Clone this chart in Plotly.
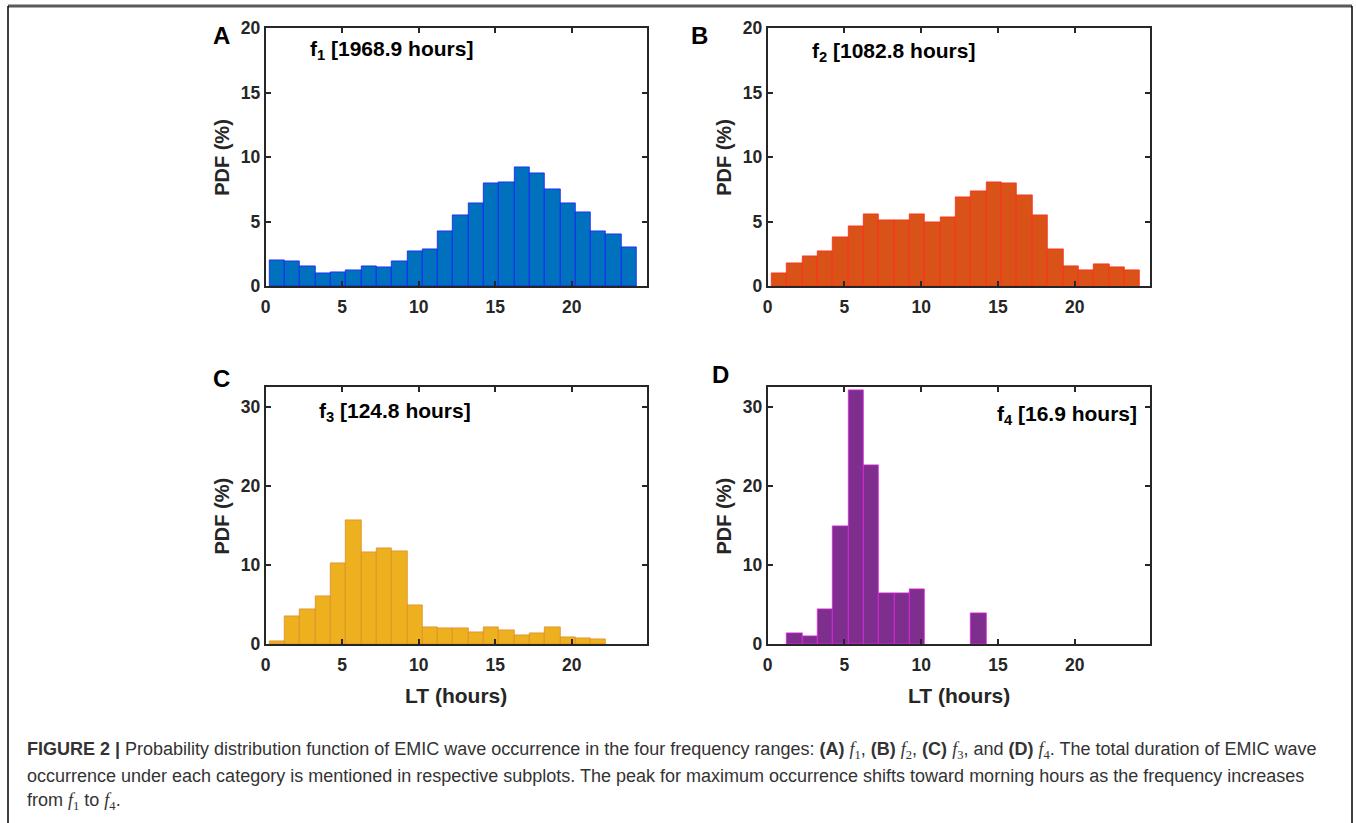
import plotly.graph_objects as go

# ---- data ----
lt_bin_centers = [0.75, 1.75, 2.75, 3.75, 4.75, 5.75, 6.75, 7.75, 8.75, 9.75, 10.75, 11.75,
                  12.75, 13.75, 14.75, 15.75, 16.75, 17.75, 18.75, 19.75, 20.75, 21.75, 22.75, 23.75]
pdf_f1 = [1.97, 1.89, 1.50, 0.98, 1.03, 1.19, 1.50, 1.47, 1.89, 2.66, 2.85, 4.22,
          5.51, 6.44, 7.94, 8.07, 9.18, 8.77, 7.50, 6.42, 5.72, 4.27, 4.04, 3.00]
pdf_f2 = [0.98, 1.76, 2.28, 2.72, 3.75, 4.63, 5.59, 5.07, 5.07, 5.59, 4.94, 5.30,
          6.91, 7.32, 8.05, 7.97, 7.01, 5.51, 2.85, 1.50, 1.19, 1.71, 1.42, 1.22]
pdf_f3 = [0.42, 3.54, 4.38, 6.03, 10.28, 15.63, 11.63, 12.09, 11.76, 4.93, 2.11, 2.02,
          2.02, 1.56, 2.15, 1.81, 1.10, 1.43, 2.19, 0.88, 0.80, 0.67, 0.0, 0.0]
pdf_f4 = [0.0, 1.43, 0.97, 4.47, 14.88, 32.1, 22.7, 6.45, 6.45, 6.91, 0.0, 0.0,
          0.0, 3.92, 0.0, 0.0, 0.0, 0.0, 0.0, 0.0, 0.0, 0.0, 0.0, 0.0]
panel_letters = ["A", "B", "C", "D"]
panel_notes = ["f<sub>1</sub> [1968.9 hours]", "f<sub>2</sub> [1082.8 hours]",
               "f<sub>3</sub> [124.8 hours]", "f<sub>4</sub> [16.9 hours]"]
x_ticks = [0, 5, 10, 15, 20]
y_ticks_top = [0, 5, 10, 15, 20]
y_ticks_bottom = [0, 10, 20, 30]
x_title = "LT (hours)"
y_title = "PDF (%)"

W, H = 1356, 823
def px(x): return x / W
def py(y): return 1 - y / H

fills = ["#0072BD", "#D95319", "#EDB120", "#7E2F8E"]
edges = ["#1a1aff", "#ff2a1a", "#e08a2a", "#e020e0"]
series = [pdf_f1, pdf_f2, pdf_f3, pdf_f4]

doms_x = [(265.7, 646.7), (767.7, 1150), (265.7, 646.7), (767.7, 1150)]
doms_y = [(28.3, 286), (28.3, 286), (387.3, 644.3), (387.3, 644.3)]

fig = go.Figure()
axis_col = "#262626"
FONT = "Liberation Sans, Arial"
tickfont = dict(family=FONT, size=17.5, color=axis_col)

annotations = []
for i in range(4):
    xa = "x" if i == 0 else f"x{i+1}"
    ya = "y" if i == 0 else f"y{i+1}"
    vals = [v if v > 0 else None for v in series[i]]
    fig.add_trace(go.Bar(x=lt_bin_centers, y=vals, width=1.0,
                         marker=dict(color=fills[i], line=dict(color=edges[i], width=0.8)),
                         xaxis=xa, yaxis=ya, showlegend=False))
    xk = "xaxis" if i == 0 else f"xaxis{i+1}"
    yk = "yaxis" if i == 0 else f"yaxis{i+1}"
    x0, x1 = doms_x[i]
    y0, y1 = doms_y[i]
    xaxis = dict(domain=[px(x0), px(x1)], range=[0, 24.9], anchor=ya, automargin=False,
                 tickvals=x_ticks, ticktext=[f"<b>{t}</b>" for t in x_ticks],
                 ticks="inside", ticklen=5, tickwidth=1.5, tickcolor=axis_col,
                 ticklabelstandoff=4,
                 showline=True, linecolor=axis_col, linewidth=2, mirror="ticks",
                 showgrid=False, zeroline=False, tickfont=tickfont)
    yt = y_ticks_top if i < 2 else y_ticks_bottom
    yaxis = dict(domain=[py(y1), py(y0)], range=[0, 20 if i < 2 else 32.5], anchor=xa,
                 automargin=False,
                 tickvals=yt, ticktext=[f"<b>{t}</b>" for t in yt],
                 ticks="inside", ticklen=5, tickwidth=1.5, tickcolor=axis_col,
                 showline=True, linecolor=axis_col, linewidth=2, mirror="ticks",
                 showgrid=False, zeroline=False, tickfont=tickfont)
    fig.update_layout({xk: xaxis, yk: yaxis})
    # axis titles as paper annotations (precise placement)
    annotations.append(dict(x=px(x0 - 44), y=py((y0 + y1) / 2), xref="paper", yref="paper",
                            showarrow=False, textangle=-90, text=f"<b>{y_title}</b>",
                            xanchor="center", yanchor="middle",
                            font=dict(family=FONT, size=20, color=axis_col)))
    if i >= 2:
        annotations.append(dict(x=px((x0 + x1) / 2), y=py(y1 + 51), xref="paper", yref="paper",
                                showarrow=False, text=f"<b>{x_title}</b>",
                                xanchor="center", yanchor="middle",
                                font=dict(family=FONT, size=21, color=axis_col)))

letter_pos = [(221, 35), (700, 35), (221, 378), (720, 375)]
for i, (lx, ly) in enumerate(letter_pos):
    annotations.append(dict(x=px(lx), y=py(ly), xref="paper", yref="paper", showarrow=False,
                            text=f"<b>{panel_letters[i]}</b>", xanchor="center", yanchor="middle",
                            font=dict(family=FONT, size=24, color="#000000")))
note_pos = [(308, 50, "left"), (810, 52, "left"), (317, 412, "left"), (1139, 415, "right")]
for i, (nx, ny, anc) in enumerate(note_pos):
    annotations.append(dict(x=px(nx), y=py(ny), xref="paper", yref="paper", showarrow=False,
                            text=f"<b>{panel_notes[i]}</b>", xanchor=anc, yanchor="middle",
                            font=dict(family=FONT, size=21, color="#000000")))

def fi(n):
    return f"<span style='font-family:Liberation Serif'><i>f</i><sub>{n}</sub></span>"

cap_font = dict(family=FONT, size=18, color="#333333")
cap_lines = [
    "<b>FIGURE 2 |</b> Probability distribution function of EMIC wave occurrence in the four frequency ranges: "
    f"<b>(A)</b> {fi(1)}, <b>(B)</b> {fi(2)}, <b>(C)</b> {fi(3)}, and "
    f"<b>(D)</b> {fi(4)}. The total duration of EMIC wave",
    "occurrence under each category is mentioned in respective subplots. The peak for maximum occurrence shifts "
    "toward morning hours as the frequency increases",
    f"from {fi(1)} to {fi(4)}.",
]
for k, (line, cy) in enumerate(zip(cap_lines, [750, 775.5, 801])):
    annotations.append(dict(x=px(25), y=py(cy), xref="paper", yref="paper", showarrow=False,
                            text=line, xanchor="left", yanchor="middle", font=cap_font))

shapes = [
    dict(type="line", xref="paper", yref="paper", x0=px(8), x1=px(1352), y0=py(6), y1=py(6),
         line=dict(color="#5a5a5a", width=3)),
    dict(type="line", xref="paper", yref="paper", x0=px(8), x1=px(8), y0=py(6), y1=py(823),
         line=dict(color="#000000", width=1.5)),
    dict(type="line", xref="paper", yref="paper", x0=px(1352), x1=px(1352), y0=py(6), y1=py(823),
         line=dict(color="#000000", width=1.5)),
]

fig.update_layout(width=W, height=H, margin=dict(l=0, r=0, t=0, b=0, autoexpand=False),
                  paper_bgcolor="white", plot_bgcolor="white", bargap=0,
                  annotations=annotations, shapes=shapes)
fig.write_html("out.html", config={"displayModeBar": False},
               post_script="document.body.style.margin='0';document.documentElement.style.overflow='hidden';")
